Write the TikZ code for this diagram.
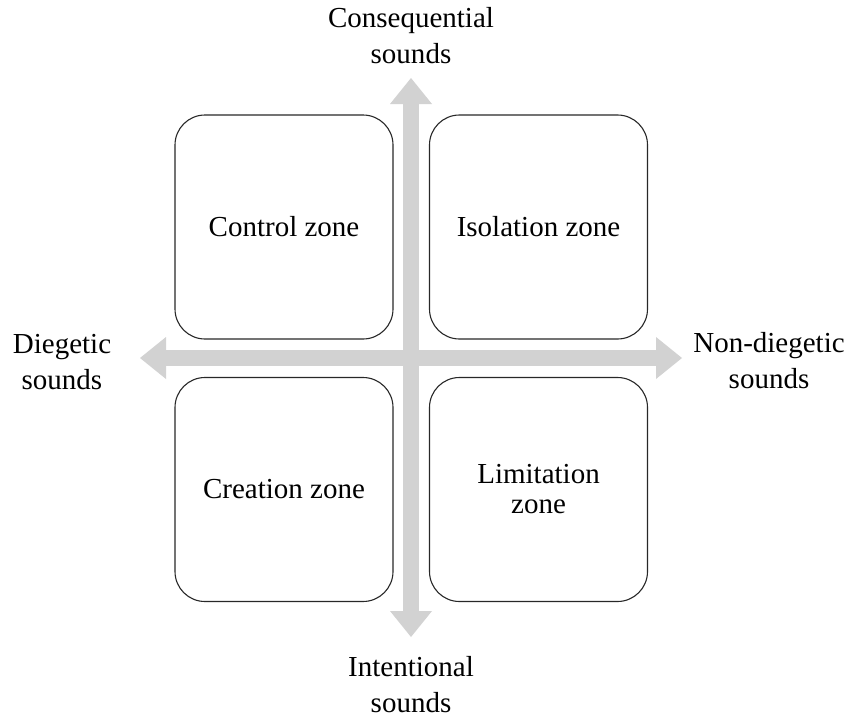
\documentclass[tikz,border=0pt]{standalone}
\usepackage{fontspec}
\setmainfont{Liberation Serif}
\usetikzlibrary{arrows.meta}
\definecolor{axisgray}{RGB}{210,210,210}
\definecolor{boxline}{RGB}{40,40,40}
\tikzset{
  zone/.style={draw=boxline, line width=1.1pt, rounded corners=30pt, fill=white,
    minimum width=218pt, minimum height=224pt, inner sep=0pt, align=center,
    font=\fontsize{29}{30}\selectfont},
  axislabel/.style={align=center, inner sep=0pt, font=\fontsize{29}{36}\selectfont},
  axis/.style={draw=axisgray, line width=16pt,
    {Triangle[width=42pt,length=26pt,line width=0pt,fill=axisgray]}-{Triangle[width=42pt,length=26pt,line width=0pt,fill=axisgray]}}
}
\begin{document}
\begin{tikzpicture}[x=1pt,y=-1pt]
\useasboundingbox (0,0) rectangle (848,718);
\coordinate (L) at (140,358);
\coordinate (R) at (682,358);
\coordinate (T) at (411,78);
\coordinate (B) at (411,637);
\draw[axis] (L) -- (R);
\draw[axis] (B) -- (T);
\node[zone] (control) at (284,227) {Control zone};
\node[zone] (isolation) at (538.5,227) {Isolation zone};
\node[zone] (creation) at (284,489.5) {Creation zone};
\node[zone] (limitation) at (538.5,489.5) {Limitation\\zone};
\node[axislabel] (cons) at (411,36) {Consequential\\sounds};
\node[axislabel] (dieg) at (62,362.5) {Diegetic\\sounds};
\node[axislabel] (nondieg) at (769,361) {Non-diegetic\\sounds};
\node[axislabel] (inten) at (411,684.5) {Intentional\\sounds};
\end{tikzpicture}
\end{document}
